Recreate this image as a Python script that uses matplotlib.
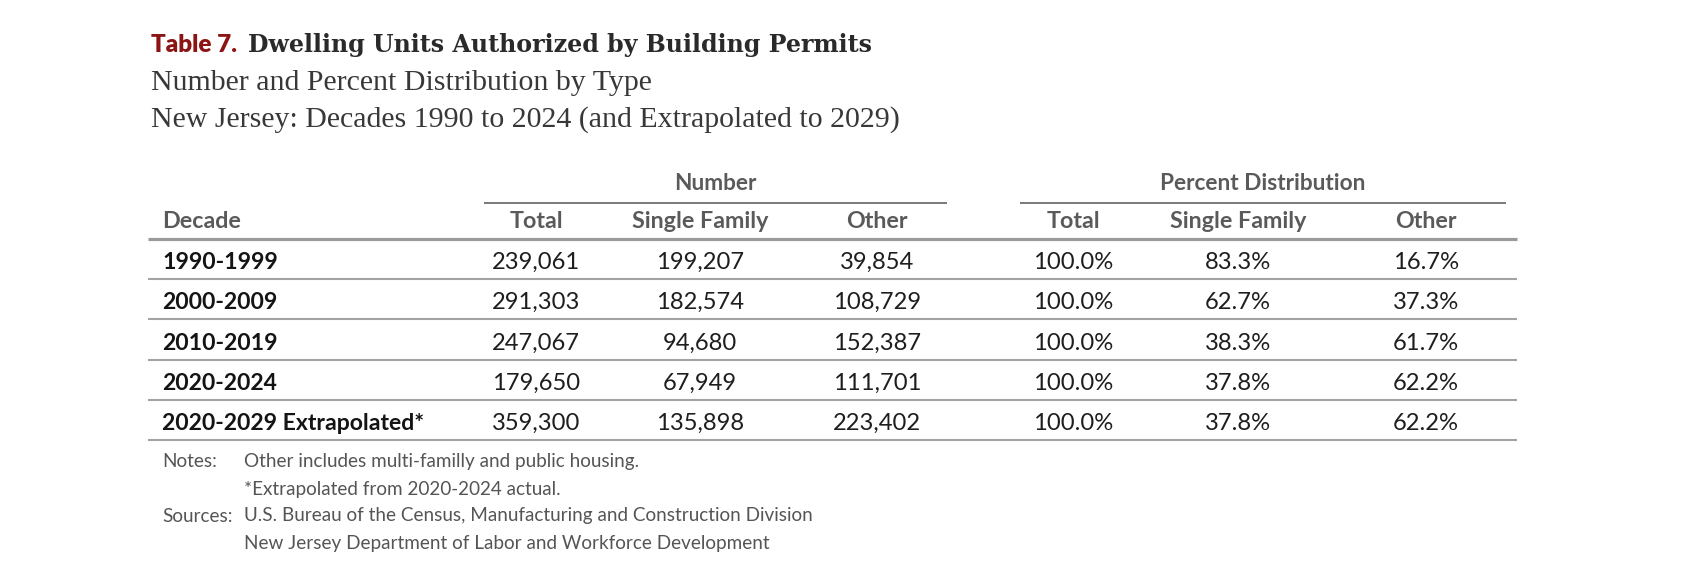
import matplotlib
matplotlib.use("Agg")
import matplotlib.pyplot as plt

# ---------------- data ----------------
decades = ["1990-1999", "2000-2009", "2010-2019", "2020-2024", "2020-2029 Extrapolated*"]
total = [239061, 291303, 247067, 179650, 359300]
single_family = [199207, 182574, 94680, 67949, 135898]
other = [39854, 108729, 152387, 111701, 223402]
pct_total = [100.0, 100.0, 100.0, 100.0, 100.0]
pct_single = [83.3, 62.7, 38.3, 37.8, 37.8]
pct_other = [16.7, 37.3, 61.7, 62.2, 62.2]

col_headers = ["Total", "Single Family", "Other", "Total", "Single Family", "Other"]
group_headers = ["Number", "Percent Distribution"]
title_prefix = "Table 7."
title_main = "Dwelling Units Authorized by Building Permits"
subtitle1 = "Number and Percent Distribution by Type"
subtitle2 = "New Jersey: Decades 1990 to 2024 (and Extrapolated to 2029)"
notes = [("Notes:", "Other includes multi-familly and public housing."),
         ("", "*Extrapolated from 2020-2024 actual."),
         ("Sources:", "U.S. Bureau of the Census, Manufacturing and Construction Division"),
         ("", "New Jersey Department of Labor and Workforce Development")]

# ---------------- figure ----------------
W, H = 1700, 588
fig = plt.figure(figsize=(W / 100, H / 100), dpi=100)
fig.patch.set_facecolor("white")
ax = fig.add_axes([0, 0, 1, 1])
ax.set_xlim(0, W)
ax.set_ylim(H, 0)
ax.axis("off")
renderer = fig.canvas.get_renderer()

SANS = ["Lato", "DejaVu Sans"]


def fit(s, target_w, **kw):
    t = ax.text(0, 0, s, fontsize=20, **kw)
    w = t.get_window_extent(renderer).width
    t.remove()
    return 20.0 * target_w / w


# ---------------- title block ----------------
fs_tp = fit(title_prefix, 86, family=SANS, fontweight="heavy")
ax.text(151, 52, title_prefix, family=SANS, fontweight="heavy", fontsize=fs_tp,
        color="#8c1414", ha="left", va="baseline")
fs_tm = fit(title_main, 625, family=["DejaVu Serif"], fontweight="bold")
ax.text(248, 52, title_main, family=["DejaVu Serif"], fontweight="bold", fontsize=fs_tm,
        color="#2a2a2a", ha="left", va="baseline")
fs_sub = fit(subtitle2, 747, family=["Liberation Serif", "DejaVu Serif"])
ax.text(151, 90, subtitle1, family=["Liberation Serif", "DejaVu Serif"], fontsize=fs_sub,
        color="#383838", ha="left", va="baseline")
ax.text(151, 127, subtitle2, family=["Liberation Serif", "DejaVu Serif"], fontsize=fs_sub,
        color="#383838", ha="left", va="baseline")

# ---------------- table layout ----------------
x_left, x_right = 148, 1517
label_x = 162
col_x = [536, 700, 877, 1073, 1238, 1426]
groups = [(484, 947), (1020, 1506)]
header_color = "#5a5a5a"

fs_group = fit("Percent Distribution", 206, family=SANS, fontweight="bold")
for (g0, g1), g in zip(groups, group_headers):
    ax.text((g0 + g1) / 2, 190, g, family=SANS, fontweight="bold", fontsize=fs_group,
            color=header_color, ha="center", va="baseline")
    ax.plot([g0, g1], [203, 203], color="#555555", lw=1.1, solid_capstyle="butt")

fs_head = fit("Single Family", 136, family=SANS, fontweight="bold")
ax.text(label_x, 228, "Decade", family=SANS, fontweight="bold", fontsize=fs_head,
        color=header_color, ha="left", va="baseline")
for x, h in zip(col_x, col_headers):
    ax.text(x, 228, h, family=SANS, fontweight="bold", fontsize=fs_head,
            color=header_color, ha="center", va="baseline")

ax.plot([x_left, x_right], [239, 239], color="#9a9a9a", lw=2.3, solid_capstyle="butt")

fs_label = fit(decades[-1], 263, family=SANS, fontweight="bold")
fs_val = fit("239,061", 88, family=SANS)

pitch = 40.25
for i, d in enumerate(decades):
    base = 269 + i * pitch
    line_y = 279 + i * pitch
    ax.text(label_x, base, d, family=SANS, fontweight="bold", fontsize=fs_label,
            color="#141414", ha="left", va="baseline")
    vals = [f"{total[i]:,}", f"{single_family[i]:,}", f"{other[i]:,}",
            f"{pct_total[i]:.1f}%", f"{pct_single[i]:.1f}%", f"{pct_other[i]:.1f}%"]
    for x, v in zip(col_x, vals):
        ax.text(x, base, v, family=SANS, fontsize=fs_val, color="#1e1e1e",
                ha="center", va="baseline")
    ax.plot([x_left, x_right], [line_y, line_y], color="#a3a3a3", lw=1.5,
            solid_capstyle="butt")

# ---------------- notes ----------------
fs_note = fit(notes[2][1], 570, family=SANS)
note_base = [467, 494.5, 521.5, 549]
for (k, txt), y in zip(notes, note_base):
    if k:
        ax.text(label_x, y, k, family=SANS, fontsize=fs_note, color="#555555",
                ha="left", va="baseline")
    ax.text(244.5, y, txt, family=SANS, fontsize=fs_note, color="#555555",
            ha="left", va="baseline")

fig.savefig("out.png", dpi=100, facecolor="white")
